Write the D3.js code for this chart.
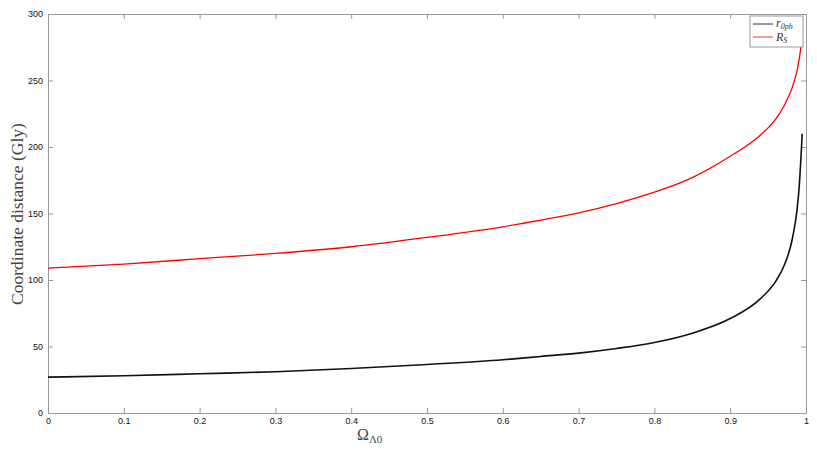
<!DOCTYPE html>
<html>
<head>
<meta charset="utf-8">
<script src="https://cdn.jsdelivr.net/npm/d3@7"></script>
<style>
body{margin:0;background:#fff;}
.axis text{font-family:"Liberation Sans",Arial,sans-serif;font-size:9px;fill:#111;}
.axis path,.axis line{stroke:#999;}
</style>
</head>
<body>
<div id="canvas"></div>
<script>
// values
var omega = [0, 0.1, 0.2, 0.3, 0.4, 0.5, 0.6, 0.65, 0.7, 0.75, 0.8, 0.85, 0.9, 0.94, 0.96, 0.972, 0.982, 0.988, 0.991, 0.995];
var rOph  = [27, 28, 29.5, 31, 33.5, 36.5, 40, 42.5, 45, 48.5, 53, 60, 71, 86, 99, 112, 131, 152, 170, 210];
var rS    = [109, 112, 116, 120, 125, 132, 140, 145, 150.5, 157.5, 166, 177, 193, 209, 221, 232, 245, 257, 266, 283];
var xTicks = [0, 0.1, 0.2, 0.3, 0.4, 0.5, 0.6, 0.7, 0.8, 0.9, 1];
var yTicks = [0, 50, 100, 150, 200, 250, 300];

var outerWidth = 817, outerHeight = 451;
var m = {t:14, r:11, b:38, l:48};
var w = outerWidth - m.l - m.r,
    h = outerHeight - m.t - m.b;

var svg = d3.select('#canvas').append('svg')
    .attr('width', outerWidth)
    .attr('height', outerHeight);
var plot = svg.append('g')
    .attr('transform', 'translate(' + m.l + ',' + m.t + ')');

var scaleX = d3.scaleLinear().domain([0, 1]).range([0, w]);
var scaleY = d3.scaleLinear().domain([0, 300]).range([h, 0]);

// box with inward ticks on all sides
plot.append('g').attr('class','axis').attr('transform','translate(0,' + h + ')')
    .call(d3.axisBottom(scaleX).tickValues(xTicks).tickSize(-5).tickSizeOuter(0).tickPadding(5)
    .tickFormat(function(d){return d;}));
plot.append('g').attr('class','axis')
    .call(d3.axisLeft(scaleY).tickValues(yTicks).tickSize(-5).tickSizeOuter(0).tickPadding(5));
plot.append('g').attr('class','axis')
    .call(d3.axisTop(scaleX).tickValues(xTicks).tickSize(-5).tickSizeOuter(0).tickFormat(''));
plot.append('g').attr('class','axis').attr('transform','translate(' + w + ',0)')
    .call(d3.axisRight(scaleY).tickValues(yTicks).tickSize(-5).tickSizeOuter(0).tickFormat(''));
plot.selectAll('.axis .domain').attr('stroke','#aaa');

var line = d3.line()
    .x(function(d){return scaleX(d[0]);})
    .y(function(d){return scaleY(d[1]);})
    .curve(d3.curveMonotoneX);

plot.append('path')
    .datum(omega.map(function(o,i){return [o, rS[i]];}))
    .attr('d', line).attr('fill','none').attr('stroke','#f00').attr('stroke-width',1.3);
plot.append('path')
    .datum(omega.map(function(o,i){return [o, rOph[i]];}))
    .attr('d', line).attr('fill','none').attr('stroke','#111').attr('stroke-width',1.6);

// legend
var lg = svg.append('g').attr('transform','translate(750,16)');
lg.append('rect').attr('width',53).attr('height',31).attr('fill','#fff').attr('stroke','#999');
lg.append('line').attr('x1',3).attr('x2',23).attr('y1',8).attr('y2',8).attr('stroke','#333').attr('stroke-width',1);
lg.append('line').attr('x1',3).attr('x2',23).attr('y1',21).attr('y2',21).attr('stroke','#f33').attr('stroke-width',1);
var t1 = lg.append('text').attr('x',26).attr('y',11)
    .style('font-family','"Liberation Serif",serif').style('font-size','12px').style('font-style','italic').style('fill','#333');
t1.append('tspan').text('r');
t1.append('tspan').attr('dy',2).style('font-size','8px').text('0ph');
var t2 = lg.append('text').attr('x',26).attr('y',25)
    .style('font-family','"Liberation Serif",serif').style('font-size','12px').style('font-style','italic').style('fill','#333');
t2.append('tspan').text('R');
t2.append('tspan').attr('dy',2).style('font-size','8px').text('S');

// axis titles
svg.append('text')
    .attr('transform','translate(23,' + 214 + ') rotate(-90)')
    .attr('text-anchor','middle')
    .style('font-family','"Liberation Serif",serif').style('font-size','17.5px').style('fill','#444')
    .text('Coordinate distance (Gly)');
var xt = svg.append('text')
    .attr('x', 357).attr('y', 440)
    .style('font-family','"Liberation Serif",serif').style('font-size','16px').style('fill','#444');
xt.append('tspan').text('Ω');
xt.append('tspan').attr('dy',3).style('font-size','11px').text('Λ0');
</script>
</body>
</html>
